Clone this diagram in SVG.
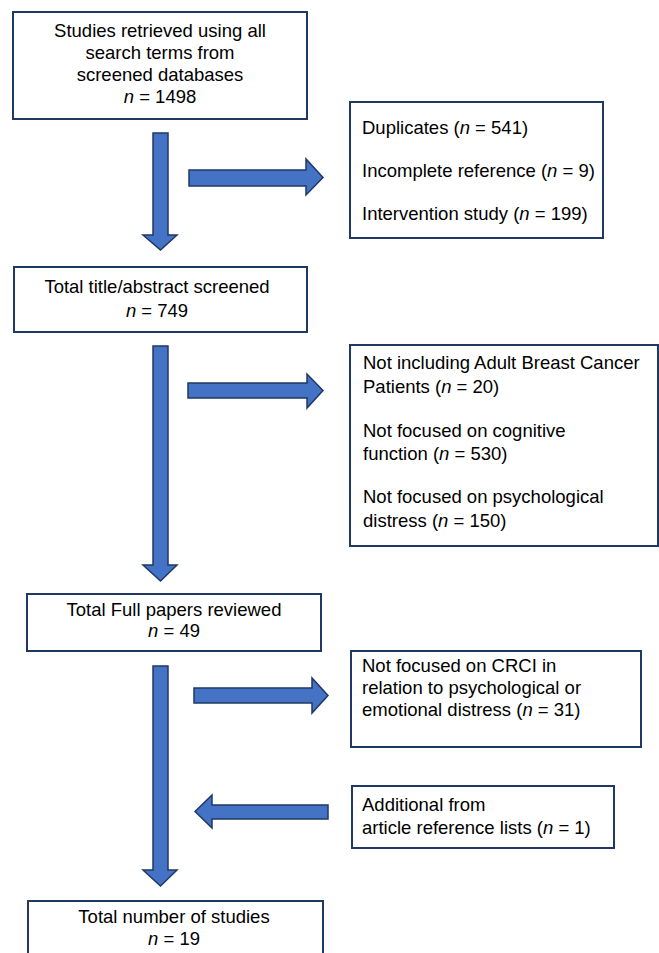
<svg xmlns="http://www.w3.org/2000/svg" width="659" height="953" viewBox="0 0 659 953">
<style>
.box{fill:#fff;stroke:#1f3864;stroke-width:2}
.arr{fill:#4472c4;stroke:#1f3864;stroke-width:1.5;stroke-linejoin:miter}
text{font-family:"Liberation Sans",Arial,sans-serif;font-size:18.5px;fill:#000}
.c{text-anchor:middle}
</style>
<rect width="659" height="953" fill="#fff"/>
<g id="connectors">
<path class="arr" d="M153,133 H168 V235 H177 L160.5,250 L143,235 H153 Z"/>
<path class="arr" d="M189,170 H306 V159 L323,177.5 L306,195 V186 H189 Z"/>
<path class="arr" d="M153,346 H168 V565 H177 L160.5,581 L143,565 H153 Z"/>
<path class="arr" d="M188,383 H307 V374 L323,390.5 L307,408 V398 H188 Z"/>
<path class="arr" d="M153,666 H168 V870 H177 L160.5,886 L143,870 H153 Z"/>
<path class="arr" d="M194,688 H312 V678 L328,695.5 L312,713 V703 H194 Z"/>
<path class="arr" d="M328,805 H212 V795 L195,811.5 L212,828 V819 H328 Z"/>
</g>
<g id="n1">
<rect class="box" x="13" y="12" width="294" height="107"/>
<text class="c" x="160" y="37">Studies retrieved using all</text>
<text class="c" x="160" y="59">search terms from</text>
<text class="c" x="160" y="81">screened databases</text>
<text class="c" x="160" y="103"><tspan font-style="italic">n</tspan> = 1498</text>
</g>
<g id="n2">
<rect class="box" x="350" y="102" width="253" height="136"/>
<text x="362" y="134">Duplicates (<tspan font-style="italic">n</tspan> = 541)</text>
<text x="362" y="177">Incomplete reference (<tspan font-style="italic">n</tspan> = 9)</text>
<text x="362" y="220">Intervention study (<tspan font-style="italic">n</tspan> = 199)</text>
</g>
<g id="n3">
<rect class="box" x="14" y="267" width="293" height="65"/>
<text class="c" x="157" y="293">Total title/abstract screened</text>
<text class="c" x="157" y="317"><tspan font-style="italic">n</tspan> = 749</text>
</g>
<g id="n4">
<rect class="box" x="350" y="345" width="308" height="201"/>
<text x="363" y="369">Not including Adult Breast Cancer</text>
<text x="363" y="393">Patients (<tspan font-style="italic">n</tspan> = 20)</text>
<text x="363" y="437">Not focused on cognitive</text>
<text x="363" y="460">function (<tspan font-style="italic">n</tspan> = 530)</text>
<text x="363" y="503">Not focused on psychological</text>
<text x="363" y="527">distress (<tspan font-style="italic">n</tspan> = 150)</text>
</g>
<g id="n5">
<rect class="box" x="27" y="594" width="294" height="57"/>
<text class="c" x="174" y="616">Total Full papers reviewed</text>
<text class="c" x="174" y="637"><tspan font-style="italic">n</tspan> = 49</text>
</g>
<g id="n6">
<rect class="box" x="351" y="651" width="290" height="96"/>
<text x="362" y="672">Not focused on CRCI in</text>
<text x="362" y="694">relation to psychological or</text>
<text x="362" y="716">emotional distress (<tspan font-style="italic">n</tspan> = 31)</text>
</g>
<g id="n7">
<rect class="box" x="352" y="786" width="262" height="62"/>
<text x="362" y="811">Additional from</text>
<text x="362" y="834">article reference lists (<tspan font-style="italic">n</tspan> = 1)</text>
</g>
<g id="n8">
<rect class="box" x="28" y="901" width="295" height="70"/>
<text class="c" x="174" y="923">Total number of studies</text>
<text class="c" x="174" y="945"><tspan font-style="italic">n</tspan> = 19</text>
</g>
</svg>
